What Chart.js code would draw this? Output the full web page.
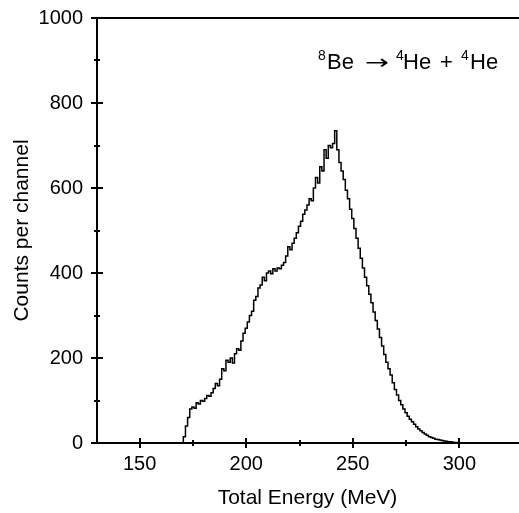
<!DOCTYPE html>
<html>
<head>
<meta charset="utf-8">
<script src="https://cdn.jsdelivr.net/npm/chart.js@4/dist/chart.umd.min.js"></script>
<style>
  html, body { margin: 0; padding: 0; background: #fff; }
  #wrap { width: 519px; height: 513px; position: relative; }
</style>
</head>
<body>
<div id="wrap"><canvas id="chart"></canvas></div>
<script>
// channel centres (MeV) and counts
const energies = [
  169, 170, 171, 172, 173, 174, 175, 176, 177, 178, 179, 180, 181, 182, 183, 184, 185, 186, 187, 188,
  189, 190, 191, 192, 193, 194, 195, 196, 197, 198, 199, 200, 201, 202, 203, 204, 205, 206, 207, 208,
  209, 210, 211, 212, 213, 214, 215, 216, 217, 218, 219, 220, 221, 222, 223, 224, 225, 226, 227, 228,
  229, 230, 231, 232, 233, 234, 235, 236, 237, 238, 239, 240, 241, 242, 243, 244, 245, 246, 247, 248,
  249, 250, 251, 252, 253, 254, 255, 256, 257, 258, 259, 260, 261, 262, 263, 264, 265, 266, 267, 268,
  269, 270, 271, 272, 273, 274, 275, 276, 277, 278, 279, 280, 281, 282, 283, 284, 285, 286, 287, 288,
  289, 290, 291, 292, 293, 294, 295, 296, 297, 298, 299, 300,
];
const counts = [
  0, 0, 15, 40, 60, 80, 85, 82, 95, 92, 100, 98, 105, 112, 110, 118, 128, 140, 135, 150,
  175, 170, 195, 190, 200, 188, 210, 222, 218, 240, 258, 270, 285, 300, 310, 336, 345, 365, 372, 390,
  382, 400, 405, 398, 410, 405, 412, 410, 418, 425, 440, 462, 455, 470, 482, 495, 510, 522, 538, 548,
  560, 575, 570, 600, 625, 612, 650, 640, 690, 670, 700, 695, 705, 735, 690, 660, 640, 620, 595, 575,
  550, 528, 505, 482, 458, 435, 412, 390, 370, 350, 330, 308, 288, 268, 248, 228, 208, 190, 175, 160,
  142, 126, 113, 100, 90, 80, 71, 63, 56, 50, 44, 38, 33, 29, 25, 21, 18, 15, 13, 11,
  9, 8, 7, 6, 5, 4, 3, 3, 2, 1, 1, 0,
];

const xMajor = [150, 200, 250, 300];
const xMinor = [175, 225, 275];
const yMajor = [0, 200, 400, 600, 800, 1000];
const yMinor = [100, 300, 500, 700, 900];

const xTitle = 'Total Energy (MeV)';
const yTitle = 'Counts per channel';

const FONT = '"Liberation Sans", Arial, Helvetica, sans-serif';

// tick marks that cross the axes, plus the top frame line
const axisMarks = {
  id: 'axisMarks',
  afterDraw(chart) {
    const { ctx, chartArea: a, scales: { x, y } } = chart;
    ctx.save();
    ctx.strokeStyle = '#000';
    ctx.lineWidth = 2;
    ctx.beginPath();
    ctx.moveTo(a.left - 1, a.top);
    ctx.lineTo(a.right + 2, a.top);
    ctx.stroke();
    const xTick = (v, len) => {
      const px = Math.round(x.getPixelForValue(v));
      ctx.beginPath();
      ctx.moveTo(px, a.bottom - len);
      ctx.lineTo(px, a.bottom + len);
      ctx.stroke();
    };
    const yTick = (v, len) => {
      const py = Math.round(y.getPixelForValue(v));
      ctx.beginPath();
      ctx.moveTo(a.left - len, py);
      ctx.lineTo(a.left + len, py);
      ctx.stroke();
    };
    xMajor.forEach(v => xTick(v, 5));
    xMinor.forEach(v => xTick(v, 3));
    yMajor.forEach(v => yTick(v, 6));
    yMinor.forEach(v => yTick(v, 3));
    ctx.restore();
  },
};

// reaction label, top right: 8Be -> 4He + 4He
const reactionLabel = {
  id: 'reactionLabel',
  afterDraw(chart) {
    const { ctx } = chart;
    const big = '22px ' + FONT;
    const small = '14px ' + FONT;
    const base = 69;
    const supBase = 60;
    ctx.save();
    ctx.fillStyle = '#000';
    ctx.textBaseline = 'alphabetic';
    ctx.textAlign = 'left';
    const put = (t, x, sup) => {
      ctx.font = sup ? small : big;
      ctx.fillText(t, x, sup ? supBase : base);
    };
    put('8', 318, true);
    put('Be', 327, false);
    // long arrow, stretched to the reference width
    ctx.font = '20px "DejaVu Sans"';
    const aw = ctx.measureText('\u2192').width;
    ctx.save();
    ctx.translate(365, base);
    ctx.scale(24 / aw, 1);
    ctx.fillText('\u2192', 0, 0);
    ctx.restore();
    put('4', 396, true);
    put('He', 403, false);
    put('+', 440, false);
    put('4', 461, true);
    put('He', 470, false);
    ctx.restore();
  },
};

new Chart(document.getElementById('chart'), {
  type: 'line',
  data: {
    datasets: [{
      data: energies.map((e, i) => ({ x: e, y: counts[i] })),
      borderColor: '#000',
      borderWidth: 1.5,
      pointRadius: 0,
      stepped: 'middle',
      fill: false,
    }],
  },
  options: {
    responsive: true,
    maintainAspectRatio: false,
    animation: false,
    layout: { padding: { left: 0, right: 1, top: 13, bottom: 0 } },
    plugins: { legend: { display: false }, tooltip: { enabled: false } },
    scales: {
      x: {
        type: 'linear',
        min: 130,
        max: 327.5,
        afterBuildTicks: s => { s.ticks = xMajor.map(v => ({ value: v })); },
        afterFit: s => { s.height = 70; },
        grid: { display: false },
        border: { display: true, color: '#000', width: 2 },
        ticks: { color: '#000', font: { family: FONT, size: 20 }, padding: 1, maxRotation: 0, callback: v => String(v) },
        title: { display: true, text: xTitle, color: '#000', font: { family: FONT, size: 21 }, padding: { top: 0, bottom: 2 } },
      },
      y: {
        min: 0,
        max: 1000,
        afterBuildTicks: s => { s.ticks = yMajor.map(v => ({ value: v })); },
        afterFit: s => { s.width = 97; },
        grid: { display: false },
        border: { display: true, color: '#000', width: 2 },
        ticks: { color: '#000', font: { family: FONT, size: 20 }, padding: 6, callback: v => String(v) },
        title: { display: true, text: yTitle, color: '#000', font: { family: FONT, size: 21 }, padding: { top: 10, bottom: 0 } },
      },
    },
  },
  plugins: [axisMarks, reactionLabel],
});
</script>
</body>
</html>
